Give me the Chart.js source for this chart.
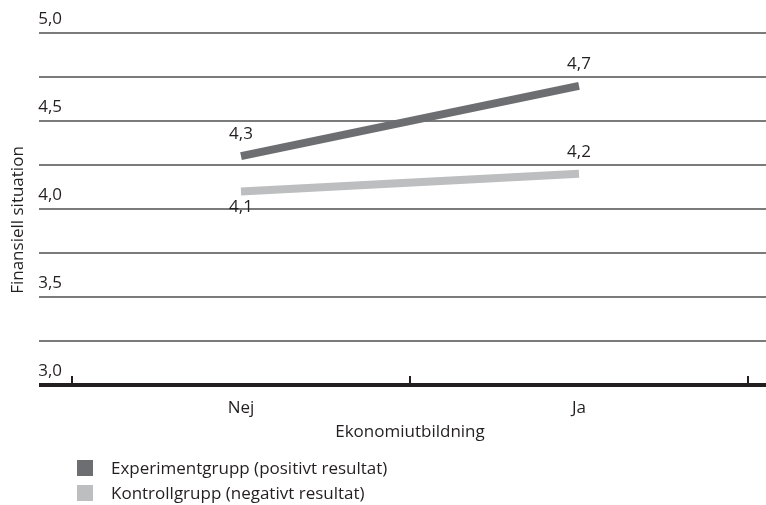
<!DOCTYPE html>
<html>
<head>
<meta charset="utf-8">
<script src="https://cdn.jsdelivr.net/npm/chart.js@4/dist/chart.umd.min.js"></script>
<style>
  html, body { margin: 0; padding: 0; background: #fff; }
  #wrap { position: relative; width: 766px; height: 505px; }
  #legend { position: absolute; left: 77px; top: 455px; font: 17px "Open Sans", sans-serif; color: #231f20; }
  #legend .item { display: flex; align-items: center; height: 25px; }
  #legend .sw { width: 16px; height: 16px; margin-right: 18px; flex: none; }
</style>
</head>
<body>
<div id="wrap">
  <canvas id="chart" width="766" height="505"></canvas>
  <div id="legend"></div>
</div>
<script>
// Categories and series
const categories = ['Nej', 'Ja'];
const experimentValues = [4.3, 4.7];
const controlValues = [4.1, 4.2];
const seriesNames = ['Experimentgrupp (positivt resultat)', 'Kontrollgrupp (negativt resultat)'];
// Where each value label sits relative to its point
const experimentLabelSide = ['above', 'above'];
const controlLabelSide = ['below', 'above'];
// Labelled values on the vertical axis
const yTickLabels = [3.0, 3.5, 4.0, 4.5, 5.0];

const FONT = '"Open Sans", sans-serif';
const INK = '#231f20';
const fmt = v => v.toFixed(1).replace('.', ',');

// Rules, base line, boundary ticks, axis title and value labels
const frame = {
  id: 'frame',
  beforeDatasetsDraw(chart) {
    const { ctx, scales: { x, y } } = chart;
    const left = 39, right = chart.width;
    ctx.save();
    ctx.strokeStyle = '#4f4f51';
    ctx.lineWidth = 1.6;
    y.ticks.forEach(t => {
      if (t.value === y.min) return;
      const py = y.getPixelForValue(t.value);
      ctx.beginPath(); ctx.moveTo(left, py); ctx.lineTo(right, py); ctx.stroke();
    });
    const by = y.getPixelForValue(y.min);
    ctx.strokeStyle = INK;
    ctx.lineWidth = 4;
    ctx.beginPath(); ctx.moveTo(left, by); ctx.lineTo(right, by); ctx.stroke();
    ctx.lineWidth = 2;
    const n = x.ticks.length, step = x.width / n;
    for (let i = 0; i <= n; i++) {
      const px = x.left + i * step;
      ctx.beginPath(); ctx.moveTo(px, by); ctx.lineTo(px, by - 9); ctx.stroke();
    }
    ctx.fillStyle = INK;
    ctx.font = '17px ' + FONT;
    ctx.textAlign = 'center';
    ctx.textBaseline = 'middle';
    ctx.translate(18, (y.top + y.bottom) / 2 + 11);
    ctx.rotate(-Math.PI / 2);
    ctx.fillText('Finansiell situation', 0, 0);
    ctx.restore();
  },
  afterDatasetsDraw(chart) {
    const { ctx } = chart;
    ctx.save();
    ctx.fillStyle = INK;
    ctx.font = '17px ' + FONT;
    ctx.textAlign = 'center';
    ctx.textBaseline = 'middle';
    chart.data.datasets.forEach((ds, i) => {
      chart.getDatasetMeta(i).data.forEach((pt, j) => {
        const dy = ds.labelSide[j] === 'below' ? 16 : -22;
        ctx.fillText(fmt(ds.data[j]), pt.x, pt.y + dy);
      });
    });
    ctx.restore();
  }
};

const chart = new Chart(document.getElementById('chart'), {
  type: 'line',
  data: {
    labels: categories,
    datasets: [
      { label: seriesNames[0], data: experimentValues, labelSide: experimentLabelSide,
        borderColor: '#6d6e71', backgroundColor: '#6d6e71', borderWidth: 8,
        borderCapStyle: 'butt', pointRadius: 0, tension: 0 },
      { label: seriesNames[1], data: controlValues, labelSide: controlLabelSide,
        borderColor: '#bcbec0', backgroundColor: '#bcbec0', borderWidth: 8,
        borderCapStyle: 'butt', pointRadius: 0, tension: 0 }
    ]
  },
  options: {
    responsive: false,
    animation: false,
    layout: { padding: { top: 33, right: 18, bottom: 60, left: 0 } },
    plugins: { legend: { display: false }, tooltip: { enabled: false } },
    scales: {
      x: {
        type: 'category',
        offset: true,
        grid: { display: false, drawTicks: false },
        border: { display: false },
        ticks: { color: INK, font: { family: FONT, size: 17 }, padding: 13 },
        title: { display: true, text: 'Ekonomiutbildning', color: INK,
                 font: { family: FONT, size: 17 }, padding: { top: 0, bottom: 3 } },
        afterFit: s => { s.height = 60; }
      },
      y: {
        min: 3, max: 5,
        grid: { display: false, drawTicks: false },
        border: { display: false },
        ticks: {
          stepSize: 0.25, autoSkip: false, padding: 10, labelOffset: -14,
          color: INK, font: { family: FONT, size: 17 },
          callback: v => yTickLabels.some(t => Math.abs(t - v) < 1e-9) ? fmt(v) : ''
        },
        afterFit: s => { s.width = 72; }
      }
    }
  },
  plugins: [frame]
});

// Legend built from the datasets
const legend = document.getElementById('legend');
chart.data.datasets.forEach(ds => {
  const row = document.createElement('div');
  row.className = 'item';
  const sw = document.createElement('span');
  sw.className = 'sw';
  sw.style.background = ds.borderColor;
  const txt = document.createElement('span');
  txt.textContent = ds.label;
  row.append(sw, txt);
  legend.appendChild(row);
});
</script>
</body>
</html>
